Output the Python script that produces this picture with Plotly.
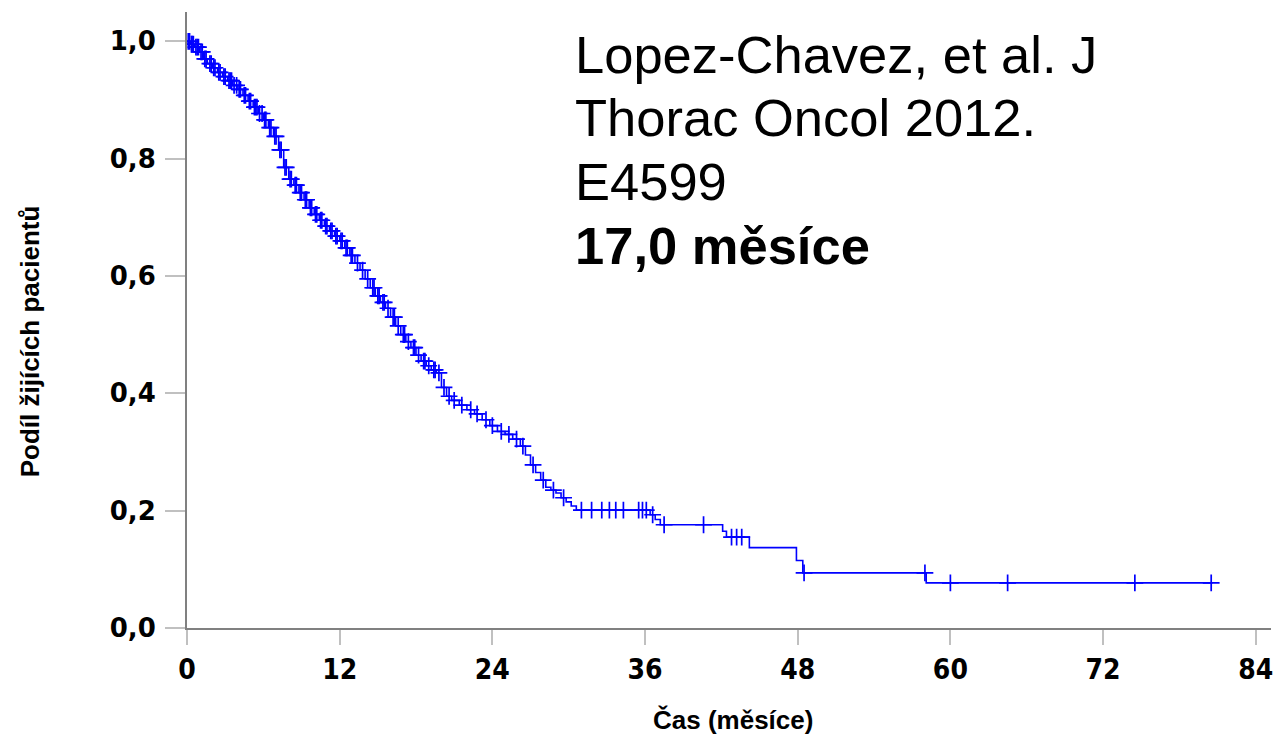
import numpy as np
import plotly.graph_objects as go

# Kaplan-Meier step curve (months, survival proportion after each step)
step_times = [0, 0.3, 0.6, 1.0, 1.3, 1.6, 2.0, 2.4, 2.8, 3.2, 3.6, 4.0, 4.4, 4.8, 5.2, 5.6,
              6.0, 6.4, 6.8, 7.2, 7.6, 8.0, 8.4, 8.8, 9.2, 9.6, 10.0, 10.4, 10.8, 11.2, 11.6,
              12.0, 12.4, 12.8, 13.2, 13.6, 14.0, 14.4, 14.8, 15.2, 15.6, 16.0, 16.4, 16.8,
              17.2, 17.6, 18.0, 18.4, 18.8, 19.2, 19.6, 20.0, 20.4, 20.8, 21.4, 22.0, 22.6,
              23.2, 23.8, 24.4, 25.0, 25.6, 26.2, 26.6, 27.0, 27.4, 27.8, 28.2, 28.6, 29.0,
              29.4, 29.8, 30.2, 30.6, 36.4, 36.8, 37.2, 42.1, 42.4, 44.2, 47.9, 48.4, 58.1, 80.6]
step_surv = [1.0, 0.995, 0.99, 0.982, 0.97, 0.962, 0.955, 0.947, 0.94, 0.933, 0.925, 0.918,
             0.908, 0.898, 0.888, 0.877, 0.866, 0.853, 0.838, 0.815, 0.785, 0.765, 0.755,
             0.742, 0.73, 0.716, 0.705, 0.695, 0.685, 0.677, 0.668, 0.66, 0.648, 0.635, 0.622,
             0.61, 0.595, 0.58, 0.566, 0.555, 0.545, 0.53, 0.515, 0.5, 0.488, 0.478, 0.465,
             0.455, 0.447, 0.44, 0.435, 0.41, 0.395, 0.388, 0.38, 0.372, 0.365, 0.355, 0.345,
             0.335, 0.33, 0.322, 0.31, 0.295, 0.278, 0.265, 0.252, 0.24, 0.235, 0.23, 0.222,
             0.215, 0.208, 0.201, 0.193, 0.185, 0.176, 0.165, 0.155, 0.137, 0.115, 0.094,
             0.077, 0.077]

# censored observations (months)
censor_times = [0.1, 0.2, 0.35, 0.4, 0.5, 0.7, 0.8, 0.9, 1.1, 1.2, 1.4, 1.5, 1.8, 1.9, 2.1,
                2.2, 2.5, 2.6, 2.9, 3.0, 3.3, 3.4, 3.5, 3.7, 3.9, 4.1, 4.2, 4.5, 4.6, 4.9,
                5.0, 5.3, 5.4, 5.5, 5.7, 5.9, 6.1, 6.2, 6.5, 6.6, 6.9, 7.0, 7.3, 7.4, 7.7,
                7.8, 8.1, 8.2, 8.5, 8.6, 8.9, 9.0, 9.3, 9.4, 9.7, 9.8, 10.1, 10.2, 10.5,
                10.6, 10.9, 11.0, 11.3, 11.4, 11.7, 11.8, 12.1, 12.2, 12.5, 12.6, 12.9,
                13.0, 13.4, 13.8, 14.2, 14.6, 14.7, 15.0, 15.1, 15.4, 15.5, 15.8, 16.2,
                16.3, 16.6, 17.0, 17.1, 17.4, 17.8, 17.9, 18.2, 18.6, 18.7, 19.0, 19.4,
                19.5, 19.8, 20.2, 20.6, 21.0, 21.6, 22.3, 22.8, 23.5, 24.0, 24.7, 25.3,
                25.9, 26.4, 27.2, 28.0, 28.8, 29.6, 31.0, 31.8, 32.6, 33.2, 33.7, 34.3,
                35.5, 35.8, 36.1, 36.6, 37.5, 40.6, 42.8, 43.2, 43.6, 48.5, 58.0, 60.0,
                64.5, 74.5, 80.5]

x_ticks = [0, 12, 24, 36, 48, 60, 72, 84]
y_ticks = [0.0, 0.2, 0.4, 0.6, 0.8, 1.0]
y_tick_labels = ["0,0", "0,2", "0,4", "0,6", "0,8", "1,0"]

info_lines = ["Lopez-Chavez, et al. J", "Thorac Oncol 2012.", "E4599", "<b>17,0 měsíce</b>"]
x_title = "Čas (měsíce)"
y_title = "Podíl žijících pacientů"

# survival value at each censor time (value of the step function)
st = np.array(step_times)
ss = np.array(step_surv)
idx = np.searchsorted(st, np.array(censor_times), side="right") - 1
censor_surv = ss[idx]

BLUE = "#0000FF"
fig = go.Figure()
fig.add_trace(go.Scatter(x=step_times, y=step_surv, mode="lines",
                         line=dict(color=BLUE, width=1.6, shape="hv"),
                         showlegend=False, hoverinfo="skip"))
fig.add_trace(go.Scatter(x=censor_times, y=censor_surv, mode="markers",
                         marker=dict(symbol="cross-thin", size=12,
                                     line=dict(color=BLUE, width=1.7)),
                         showlegend=False, hoverinfo="skip"))

L, T, B = 187, 12, 111
W, H = 1280, 739
plot_w = 1273 - L
plot_h = 628 - T

fig.update_layout(
    width=W, height=H,
    margin=dict(l=L, r=W - 1273, t=T, b=B),
    plot_bgcolor="white", paper_bgcolor="white",
    xaxis=dict(range=[0, 85.2], tickvals=x_ticks, ticktext=[str(v) for v in x_ticks],
               showgrid=False, zeroline=False, showline=True, linecolor="#808080",
               linewidth=2, ticks="outside", ticklen=15, tickwidth=2, tickcolor="#c0c0c0",
               tickfont=dict(family="Liberation Sans Narrow, DejaVu Sans Condensed, Liberation Sans",
                             size=28, color="black", weight="bold")),
    yaxis=dict(range=[0, 1.05], tickvals=y_ticks, ticktext=y_tick_labels,
               showgrid=False, zeroline=False, showline=True, linecolor="#808080",
               linewidth=2, ticks="outside", ticklen=20, tickwidth=2, tickcolor="#c0c0c0",
               ticklabelstandoff=4,
               tickfont=dict(family="DejaVu Sans", size=26, color="black", weight="bold")),
)

def px_to_paper_y(py):
    return (628 - py) / plot_h

def px_to_paper_x(px):
    return (px - L) / plot_w

line_centers = [55, 118, 181, 245]
for text, cy in zip(info_lines, line_centers):
    fig.add_annotation(text=text, xref="paper", yref="paper",
                       x=px_to_paper_x(574), y=px_to_paper_y(cy),
                       xanchor="left", yanchor="middle", showarrow=False,
                       font=dict(family="Liberation Sans", size=52.5, color="black"))

fig.add_annotation(text=x_title, xref="paper", yref="paper",
                   x=px_to_paper_x(734), y=px_to_paper_y(720),
                   xanchor="center", yanchor="middle", showarrow=False,
                   font=dict(family="Liberation Sans Narrow, Liberation Sans", size=26,
                             color="black", weight="bold"))
fig.add_annotation(text=y_title, xref="paper", yref="paper", textangle=-90,
                   x=px_to_paper_x(30), y=px_to_paper_y(341),
                   xanchor="center", yanchor="middle", showarrow=False,
                   font=dict(family="Liberation Sans", size=26, color="black", weight="bold"))

fig.write_html("out.html")
